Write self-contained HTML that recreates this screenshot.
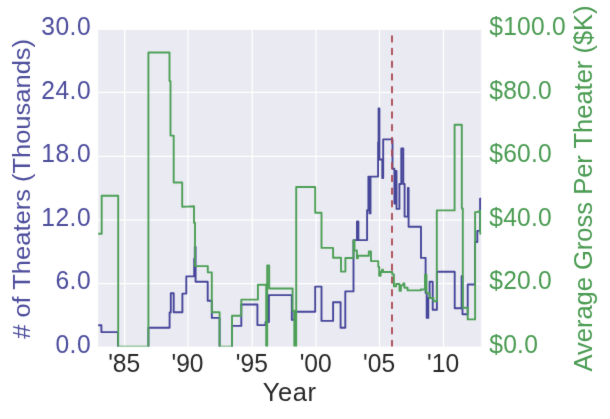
<!DOCTYPE html><html><head><meta charset="utf-8"><style>html,body{margin:0;padding:0;background:#fff;}svg{display:block;}text{font-family:"Liberation Sans",Arial,sans-serif;}</style></head><body>
<svg width="610" height="419" viewBox="0 0 610 419">
<defs><filter id="soft" x="0" y="0" width="1" height="1" color-interpolation-filters="sRGB"><feConvolveMatrix order="3" kernelMatrix="0.015 0.06 0.015 0.06 0.7 0.06 0.015 0.06 0.015" edgeMode="duplicate"/></filter><clipPath id="c"><rect x="98.2" y="29.9" width="383.0" height="316.6"/></clipPath></defs>
<g filter="url(#soft)"><rect width="610" height="419" fill="#fff"/>
<rect x="98.2" y="29.9" width="383.0" height="316.6" fill="#eaeaf2"/>
<path d="M124.65 29.9V346.5M187.95 29.9V346.5M252.20 29.9V346.5M316.10 29.9V346.5M379.50 29.9V346.5M443.50 29.9V346.5M98.2 283.60H481.2M98.2 220.00H481.2M98.2 156.35H481.2M98.2 92.35H481.2" stroke="#fff" stroke-width="1.25" fill="none"/>
<g clip-path="url(#c)" fill="none" stroke-width="1.9" stroke-linejoin="round" stroke-linecap="round">
<path d="M90.0 325.2L101.4 325.2L101.4 332.1L118.0 332.1L118.0 348.5L148.4 348.5L148.4 327.7L169.6 327.7L169.6 312.4L170.8 312.4L170.8 293.3L173.7 293.3L173.7 312.3L182.4 312.3L182.4 293.6L186.3 293.6L186.3 276.4L194.2 276.4L194.2 258.8L194.8 258.8L194.8 246.9L195.6 246.9L195.6 281.8L207.7 281.8L207.7 300.8L211.8 300.8L211.8 317.9L219.6 317.9L219.6 348.5L232.0 348.5L232.0 325.9L241.3 325.9L241.3 304.5L257.4 304.5L257.4 325.1L265.5 325.1L265.5 322.0L268.9 322.0L268.9 295.1L291.8 295.1L291.8 319.9L294.5 319.9L294.5 311.8L315.2 311.8L315.2 286.6L321.5 286.6L321.5 320.9L333.1 320.9L333.1 302.3L340.6 302.3L340.6 327.7L345.3 327.7L345.3 291.4L353.5 291.4L353.5 240.1L357.0 240.1L357.0 221.5L358.4 221.5L358.4 240.1L367.1 240.1L367.1 210.3L368.4 210.3L368.4 176.6L369.5 176.6L369.5 213.4L370.5 213.4L370.5 176.6L378.1 176.6L378.1 142.4L378.6 142.4L378.6 108.4L379.4 108.4L379.4 159.5L382.3 159.5L382.3 178.1L383.2 178.1L383.2 139.4L392.5 139.4L392.5 168.7L394.4 168.7L394.4 203.5L395.5 203.5L395.5 171.0L396.5 171.0L396.5 208.9L399.4 208.9L399.4 184.0L401.3 184.0L401.3 148.5L403.3 148.5L403.3 184.0L404.6 184.0L404.6 216.6L407.9 216.6L407.9 188.0L408.6 188.0L408.6 226.8L421.0 226.8L421.0 257.9L425.6 257.9L425.6 293.0L426.7 293.0L426.7 317.9L428.3 317.9L428.3 298.0L429.6 298.0L429.6 281.7L432.7 281.7L432.7 309.8L436.9 309.8L436.9 271.8L454.7 271.8L454.7 308.2L461.6 308.2L461.6 276.3L462.5 276.3L462.5 314.3L467.7 314.3L467.7 284.5L475.0 284.5L475.0 242.0L477.3 242.0L477.3 230.9L480.1 230.9L480.1 198.6L490.0 198.6" stroke="#45459a"/>
<path d="M90.0 233.8L101.7 233.8L101.7 195.7L118.2 195.7L118.2 346.6L148.4 346.6L148.4 52.5L169.5 52.5L169.5 81.1L170.5 81.1L170.5 135.6L173.7 135.6L173.7 182.5L182.2 182.5L182.2 206.8L187.0 206.6L194.0 206.3L194.0 222.7L195.0 222.7L195.0 266.1L207.8 266.1L207.8 272.4L211.8 272.4L211.8 312.3L219.6 312.3L219.6 346.6L232.0 346.6L232.0 315.7L241.3 315.7L241.3 299.6L257.9 299.6L257.9 284.8L266.2 284.8L266.2 346.6L267.2 346.6L267.2 265.4L269.2 265.4L269.2 288.5L292.6 288.5L292.6 310.8L294.3 310.8L294.3 346.6L296.2 346.6L296.2 187.0L315.2 187.0L315.2 212.8L321.5 212.8L321.5 247.9L333.1 247.9L333.1 257.8L341.0 257.8L341.0 271.6L345.4 271.6L345.4 258.0L353.5 258.0L353.5 240.5L354.5 240.5L354.5 250.5L356.9 250.5L356.9 258.3L357.9 258.3L357.9 255.7L368.8 255.7L368.8 251.4L371.0 251.4L371.0 261.1L378.3 261.1L378.3 266.7L379.2 266.7L379.2 275.7L380.6 275.7L380.6 272.0L382.0 272.0L382.0 269.7L383.0 269.7L383.0 272.0L392.3 272.0L392.3 274.4L393.9 274.4L393.9 286.4L396.1 286.4L396.1 284.0L399.5 284.0L399.5 290.7L400.9 290.7L400.9 285.4L403.3 285.4L403.3 283.5L404.4 283.5L404.4 287.8L407.6 287.8L407.6 290.4L420.8 290.4L420.8 289.5L425.0 289.5L425.0 274.8L426.5 274.8L426.5 293.3L429.5 293.3L429.5 298.0L433.5 298.0L433.5 301.3L436.8 301.3L436.8 210.4L454.6 210.4L454.6 124.7L461.8 124.7L461.8 208.5L462.8 208.5L462.8 307.7L467.7 307.7L467.7 319.4L475.1 319.4L475.1 212.1L477.0 212.1L480.2 210.8L480.2 233.6L490.0 233.6" stroke="#4c9f56"/>
<path d="M392.0 346.2V20" stroke="#aa4650" stroke-dasharray="5.6 7.09" stroke-width="1.8"/>
</g>
<text transform="translate(91.1 353.30) scale(1 1.050)" font-size="24.6" fill="#4c4c9c" text-anchor="end" letter-spacing="0.5">0.0</text>
<text transform="translate(91.1 289.30) scale(1 1.050)" font-size="24.6" fill="#4c4c9c" text-anchor="end" letter-spacing="0.5">6.0</text>
<text transform="translate(91.1 226.15) scale(1 1.050)" font-size="24.6" fill="#4c4c9c" text-anchor="end" letter-spacing="0.5">12.0</text>
<text transform="translate(91.1 162.05) scale(1 1.050)" font-size="24.6" fill="#4c4c9c" text-anchor="end" letter-spacing="0.5">18.0</text>
<text transform="translate(91.1 98.90) scale(1 1.050)" font-size="24.6" fill="#4c4c9c" text-anchor="end" letter-spacing="0.5">24.0</text>
<text transform="translate(91.1 35.00) scale(1 1.050)" font-size="24.6" fill="#4c4c9c" text-anchor="end" letter-spacing="0.5">30.0</text>
<text transform="translate(489.2 353.30) scale(1 1.050)" font-size="24.6" fill="#4a9b52" letter-spacing="0.25">$0.0</text>
<text transform="translate(489.2 289.30) scale(1 1.050)" font-size="24.6" fill="#4a9b52" letter-spacing="0.25">$20.0</text>
<text transform="translate(489.2 226.15) scale(1 1.050)" font-size="24.6" fill="#4a9b52" letter-spacing="0.25">$40.0</text>
<text transform="translate(489.2 162.05) scale(1 1.050)" font-size="24.6" fill="#4a9b52" letter-spacing="0.25">$60.0</text>
<text transform="translate(489.2 98.90) scale(1 1.050)" font-size="24.6" fill="#4a9b52" letter-spacing="0.25">$80.0</text>
<text transform="translate(489.2 35.00) scale(1 1.050)" font-size="24.6" fill="#4a9b52" letter-spacing="0.25">$100.0</text>
<text transform="translate(124.2 372.0) scale(1 1.050)" font-size="24.6" fill="#262626" text-anchor="middle">'85</text>
<text transform="translate(187.5 372.0) scale(1 1.050)" font-size="24.6" fill="#262626" text-anchor="middle">'90</text>
<text transform="translate(251.8 372.0) scale(1 1.050)" font-size="24.6" fill="#262626" text-anchor="middle">'95</text>
<text transform="translate(315.7 372.0) scale(1 1.050)" font-size="24.6" fill="#262626" text-anchor="middle">'00</text>
<text transform="translate(379.1 372.0) scale(1 1.050)" font-size="24.6" fill="#262626" text-anchor="middle">'05</text>
<text transform="translate(443.1 372.0) scale(1 1.050)" font-size="24.6" fill="#262626" text-anchor="middle">'10</text>
<text transform="translate(289.6 401.2) scale(1 1.02)" font-size="25.5" fill="#262626" text-anchor="middle" letter-spacing="0.6">Year</text>
<text transform="translate(29.9 188.9) rotate(-90) scale(1 0.97)" font-size="25.5" fill="#4c4c9c" text-anchor="middle"># of Theaters (Thousands)</text>
<text transform="translate(592 188.5) rotate(-90)" font-size="25.5" fill="#4a9b52" text-anchor="middle">Average Gross Per Theater ($K)</text>
</g></svg></body></html>
